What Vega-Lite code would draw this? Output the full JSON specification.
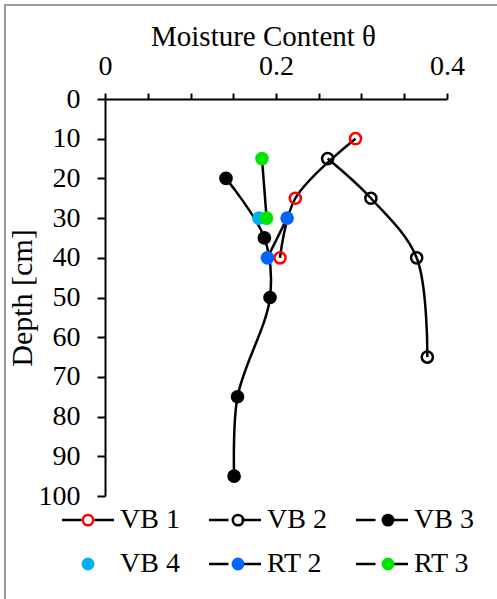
{
  "$schema": "https://vega.github.io/schema/vega-lite/v6.json",
  "autosize": {"type": "none"},
  "width": 493,
  "height": 595,
  "padding": {"left": 5, "top": 5, "right": -1, "bottom": -1},
  "background": "white",
  "config": {
    "view": {"stroke": "#9a9a9a", "strokeWidth": 2},
    "font": "Liberation Serif",
    "style": {"guide-label": {"font": "Liberation Serif"}, "guide-title": {"font": "Liberation Serif"}},
    "axis": {
      "labelFont": "Liberation Serif", "titleFont": "Liberation Serif",
      "labelFontSize": 28, "titleFontSize": 29,
      "labelColor": "black", "titleColor": "black", "titleFontWeight": "normal",
      "domainColor": "black", "tickColor": "black", "domainWidth": 2, "tickWidth": 2,
      "grid": false, "labelFlush": false, "labelOverlap": false
    },
    "legend": {
      "labelFont": "Liberation Serif", "labelFontSize": 28, "labelColor": "black", "padding": 0
    }
  },
  "data": {
    "values": [
      {"series": "VB 1", "depth": 10, "theta": 0.293},
      {"series": "VB 1", "depth": 25, "theta": 0.2226},
      {"series": "VB 1", "depth": 40, "theta": 0.2047},
      {"series": "VB 2", "depth": 15, "theta": 0.2604},
      {"series": "VB 2", "depth": 25, "theta": 0.311},
      {"series": "VB 2", "depth": 40, "theta": 0.3645},
      {"series": "VB 2", "depth": 65, "theta": 0.377},
      {"series": "VB 3", "depth": 20, "theta": 0.1415},
      {"series": "VB 3", "depth": 35, "theta": 0.1864},
      {"series": "VB 3", "depth": 50, "theta": 0.193},
      {"series": "VB 3", "depth": 75, "theta": 0.155},
      {"series": "VB 3", "depth": 95, "theta": 0.151},
      {"series": "VB 4", "depth": 30, "theta": 0.18},
      {"series": "RT 2", "depth": 30, "theta": 0.213},
      {"series": "RT 2", "depth": 40, "theta": 0.19},
      {"series": "RT 3", "depth": 15, "theta": 0.1836},
      {"series": "RT 3", "depth": 30, "theta": 0.189}
    ]
  },
  "layer": [
    {
      "mark": {"type": "line", "interpolate": "catmull-rom", "strokeWidth": 2.5},
      "encoding": {
        "x": {
          "field": "theta", "type": "quantitative",
          "scale": {"domain": [0, 0.4], "range": [100, 442], "nice": false, "zero": false},
          "axis": {
            "orient": "top", "offset": -94, "title": "Moisture Content θ",
            "labelFont": "Liberation Serif", "titleFont": "Liberation Serif",
            "values": [0, 0.05, 0.1, 0.15, 0.2, 0.25, 0.3, 0.35, 0.4],
            "labelExpr": "datum.value === 0 ? '0' : abs(datum.value - 0.2) < 0.001 ? '0.2' : abs(datum.value - 0.4) < 0.001 ? '0.4' : ''",
            "tickSize": 6, "labelPadding": 13, "titlePadding": 1, "titleX": 258,
            "encode": {"labels": {"font": {"value": "Liberation Serif"}}}
          }
        },
        "y": {
          "field": "depth", "type": "quantitative",
          "scale": {"domain": [0, 100], "range": [94, 491], "nice": false, "zero": false},
          "axis": {
            "orient": "left", "offset": -100, "title": "Depth [cm]",
            "labelFont": "Liberation Serif", "titleFont": "Liberation Serif", "titleFontSize": 30,
            "values": [0, 10, 20, 30, 40, 50, 60, 70, 80, 90, 100],
            "tickSize": 8, "labelPadding": 17, "titlePadding": 1,
            "encode": {"labels": {"font": {"value": "Liberation Serif"}}}
          }
        },
        "order": {"field": "depth", "type": "quantitative"},
        "color": {
          "field": "series", "type": "nominal",
          "sort": ["VB 1", "VB 2", "VB 3", "VB 4", "RT 2", "RT 3"],
          "scale": {"range": ["black", "black", "black", "transparent", "black", "black"]},
          "legend": {
            "orient": "none", "legendX": 68.5, "legendY": 500.5, "direction": "horizontal", "columns": 3,
            "title": null,
            "symbolType": "M-2,0L-0.5,0M0.5,0L2,0M0,-1.1L0,-1.1M0,1.1L0,1.1",
            "symbolSize": 676, "symbolStrokeWidth": 2.5,
            "labelOffset": 17.5, "columnPadding": 23, "rowPadding": 5
          }
        }
      }
    },
    {
      "mark": {"type": "point", "shape": "circle", "filled": true, "size": 125, "strokeWidth": 2.5, "opacity": 1},
      "encoding": {
        "x": {"field": "theta", "type": "quantitative"},
        "y": {"field": "depth", "type": "quantitative"},
        "fill": {
          "field": "series", "type": "nominal",
          "scale": {
            "domain": ["VB 1", "VB 2", "VB 3", "VB 4", "RT 2", "RT 3"],
            "range": ["transparent", "transparent", "black", "#00b0f0", "#0066ff", "#00e600"]
          },
          "legend": {
            "orient": "none", "legendX": 68.5, "legendY": 500.5, "direction": "horizontal", "columns": 3,
            "title": null,
            "symbolType": "M-2,0L-2,0M6.95,0L6.95,0M0,-1.1L0,-1.1M0,1.1L0,1.1M-0.4,0A0.4,0.4,0,1,1,0.4,0A0.4,0.4,0,1,1,-0.4,0Z",
            "symbolSize": 676, "symbolStrokeWidth": 2.5,
            "labelExpr": "''", "labelOffset": 17.5, "columnPadding": 23, "rowPadding": 5
          }
        },
        "stroke": {
          "field": "series", "type": "nominal",
          "scale": {
            "domain": ["VB 1", "VB 2", "VB 3", "VB 4", "RT 2", "RT 3"],
            "range": ["#ff0000", "black", "black", "#00b0f0", "#0066ff", "#00e600"]
          },
          "legend": {
            "orient": "none", "legendX": 68.5, "legendY": 500.5, "direction": "horizontal", "columns": 3,
            "title": null,
            "symbolType": "M-2,0L-2,0M6.95,0L6.95,0M0,-1.1L0,-1.1M0,1.1L0,1.1M-0.4,0A0.4,0.4,0,1,1,0.4,0A0.4,0.4,0,1,1,-0.4,0Z",
            "symbolSize": 676, "symbolStrokeWidth": 2.5,
            "labelExpr": "''", "labelOffset": 17.5, "columnPadding": 23, "rowPadding": 5
          }
        }
      }
    }
  ]
}
